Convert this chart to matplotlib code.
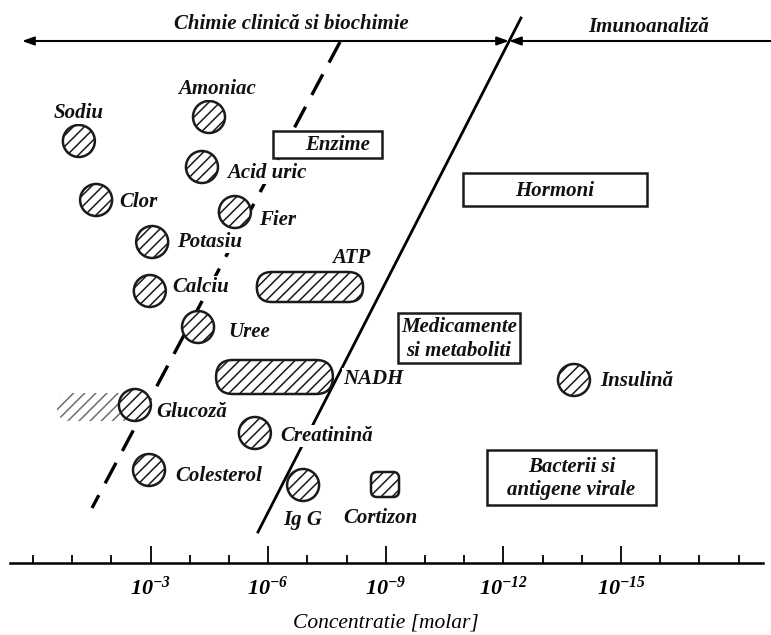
import matplotlib
matplotlib.use("Agg")
import matplotlib.pyplot as plt
from matplotlib.patches import Ellipse, FancyBboxPatch, Rectangle

plt.rcParams['font.family'] = ['Liberation Serif', 'DejaVu Serif']
plt.rcParams['axes.unicode_minus'] = False
plt.rcParams['hatch.linewidth'] = 1.1

# ---------------- data ----------------
# analytes: name, -log10(concentration), row (vertical slot, top = small)
analytes = ["Sodiu", "Amoniac", "Acid uric", "Clor", "Fier", "Potasiu", "Calciu",
            "Uree", "Glucoză", "Creatinină", "Colesterol", "Ig G", "Insulină"]
analyte_exp = [1.17, 4.49, 4.31, 1.61, 5.15, 3.04, 2.98,
               4.21, 2.60, 5.66, 2.96, 6.89, 13.80]
analyte_row = [141, 117, 167, 200, 212, 242, 291,
               327, 405, 433, 470, 485, 380]
# ranges (min, max of -log10 concentration)
ranges = ["ATP", "NADH"]
range_lo = [5.71, 4.67]
range_hi = [8.42, 7.65]
range_row = [287, 377]
glucose_range = (0.61, 2.60)
cortizon_exp = 8.98
cortizon_row = 485
# category boxes: label, exp-lo, exp-hi, row top, row bottom
categories = ["Enzime", "Hormoni", "Medicamente\nsi metaboliti", "Bacterii si\nantigene virale"]
cat_lo = [6.12, 10.97, 9.31, 11.58]
cat_hi = [8.90, 15.66, 12.42, 15.89]
cat_top = [131, 173, 313, 450]
cat_bot = [158, 206, 363, 505]
tick_exps = list(range(0, 19))
major_exps = [3, 6, 9, 12, 15]
major_labels = [r"$\mathregular{10^{-3}}$", r"$\mathregular{10^{-6}}$", r"$\mathregular{10^{-9}}$",
                r"$\mathregular{10^{-12}}$", r"$\mathregular{10^{-15}}$"]

# ---------------- figure ----------------
W, H = 771, 635
PX = 39.2          # pixels per decade
X0 = 33            # pixel of exponent 0
AXY = 563          # pixel row of the axis line
fig = plt.figure(figsize=(W / 100, H / 100), dpi=100)
ax = fig.add_axes([0, (H - AXY) / H, 1, AXY / H])
ax.set_xlim(-X0 / PX, (W - X0) / PX)
ax.set_ylim(AXY, 0)
for s in ["top", "left", "right"]:
    ax.spines[s].set_visible(False)
ax.spines["bottom"].set_linewidth(1.8)
ax.spines["bottom"].set_bounds((10 - X0) / PX, (763 - X0) / PX)
ax.set_yticks([])
ax.set_xticks(major_exps)
ax.set_xticklabels(major_labels, fontsize=16)
for lbl in ax.get_xticklabels():
    lbl.set_fontstyle("italic")
    lbl.set_fontweight("bold")
ax.set_xticks([e for e in tick_exps if e not in major_exps], minor=True)
ax.tick_params(axis="x", which="major", direction="in", length=12, width=1.3, pad=10)
ax.tick_params(axis="x", which="minor", direction="in", length=6, width=1.3)
ax.set_xlabel("Concentratie [molar]", fontsize=15.5, style="italic", labelpad=10)

TXT = dict(style="italic", weight="bold", fontsize=15, color="#111111")
BG = dict(facecolor="white", edgecolor="none", pad=0.5)
R = 16  # circle radius in px
RX = R / PX

def px(p):
    return (p - X0) / PX

# ---- dividing lines ----
ax.plot([px(340), px(92)], [42, 508], color="black", lw=2.4,
        linestyle=(0, (7, 4)), zorder=1, solid_capstyle="butt")
ax.plot([px(521), px(258)], [18, 532], color="black", lw=2.0, zorder=1)

# ---- top arrows ----
ax.annotate("", xy=(px(22), 41), xytext=(px(509), 41),
            arrowprops=dict(arrowstyle="<|-|>,head_length=0.7,head_width=0.25",
                            color="black", lw=1.5, shrinkA=0, shrinkB=0))
ax.annotate("", xy=(px(509), 41), xytext=(px(775), 41),
            arrowprops=dict(arrowstyle="-|>,head_length=0.7,head_width=0.25",
                            color="black", lw=1.5, shrinkA=0, shrinkB=0))
ax.text(px(291), 24, "Chimie clinică si biochimie", ha="center", va="center", **TXT)
ax.text(px(649), 27, "Imunoanaliză", ha="center", va="center", **TXT)

# ---- faded glucose range ----
ax.add_patch(FancyBboxPatch((glucose_range[0], 393), glucose_range[1] - glucose_range[0], 28,
                            boxstyle="round,pad=0,rounding_size=%f" % (14 / PX),
                            mutation_aspect=PX, facecolor="white", edgecolor="#6e6e6e",
                            lw=0, hatch="///", zorder=2))

# ---- circles ----
for name, e, r in zip(analytes, analyte_exp, analyte_row):
    ax.add_patch(Ellipse((e, r), 2 * RX, 2 * R, facecolor="white", edgecolor="#1a1a1a",
                         lw=1.8, hatch="///", zorder=3))

# ---- ranges (pills) ----
for name, lo, hi, r in zip(ranges, range_lo, range_hi, range_row):
    h = 30 if name == "ATP" else 34
    ax.add_patch(FancyBboxPatch((lo, r - h / 2), hi - lo, h,
                                boxstyle="round,pad=0,rounding_size=%f" % (h / 2 / PX),
                                mutation_aspect=PX, facecolor="white", edgecolor="#1a1a1a",
                                lw=1.8, hatch="///", zorder=3))

# ---- cortizon (rounded square) ----
ax.add_patch(FancyBboxPatch((cortizon_exp - 14 / PX, cortizon_row - 13), 28 / PX, 25,
                            boxstyle="round,pad=0,rounding_size=%f" % (6 / PX),
                            mutation_aspect=PX, facecolor="white", edgecolor="#1a1a1a",
                            lw=1.8, hatch="///", zorder=3))

# ---- category boxes ----
for lab, lo, hi, t, b in zip(categories, cat_lo, cat_hi, cat_top, cat_bot):
    ax.add_patch(Rectangle((lo, t), hi - lo, b - t, facecolor="white",
                           edgecolor="#1a1a1a", lw=1.8, zorder=2))
    cx = (lo + hi) / 2
    if lab == "Enzime":
        cx = px(338)
    ax.text(cx, (t + b) / 2 + 1, lab, ha="center", va="center", linespacing=1.2,
            zorder=4, **TXT)

# ---- labels ----
label_pos = {
    "Sodiu": (79, 113, "center"),
    "Amoniac": (217, 89, "center"),
    "Acid uric": (227, 173, "left"),
    "Clor": (119, 202, "left"),
    "Fier": (259, 220, "left"),
    "Potasiu": (177, 242, "left"),
    "Calciu": (172, 287, "left"),
    "Uree": (228, 332, "left"),
    "Glucoză": (156, 412, "left"),
    "Creatinină": (280, 436, "left"),
    "Colesterol": (175, 476, "left"),
    "Ig G": (303, 520, "center"),
    "Insulină": (600, 381, "left"),
    "ATP": (351, 258, "center"),
    "NADH": (343, 379, "left"),
    "Cortizon": (380, 518, "center"),
}
for name, (x, y, ha) in label_pos.items():
    ax.text(px(x), y, name, ha=ha, va="center", zorder=4, bbox=BG, **TXT)

fig.savefig("out.png", dpi=100, facecolor="white")
